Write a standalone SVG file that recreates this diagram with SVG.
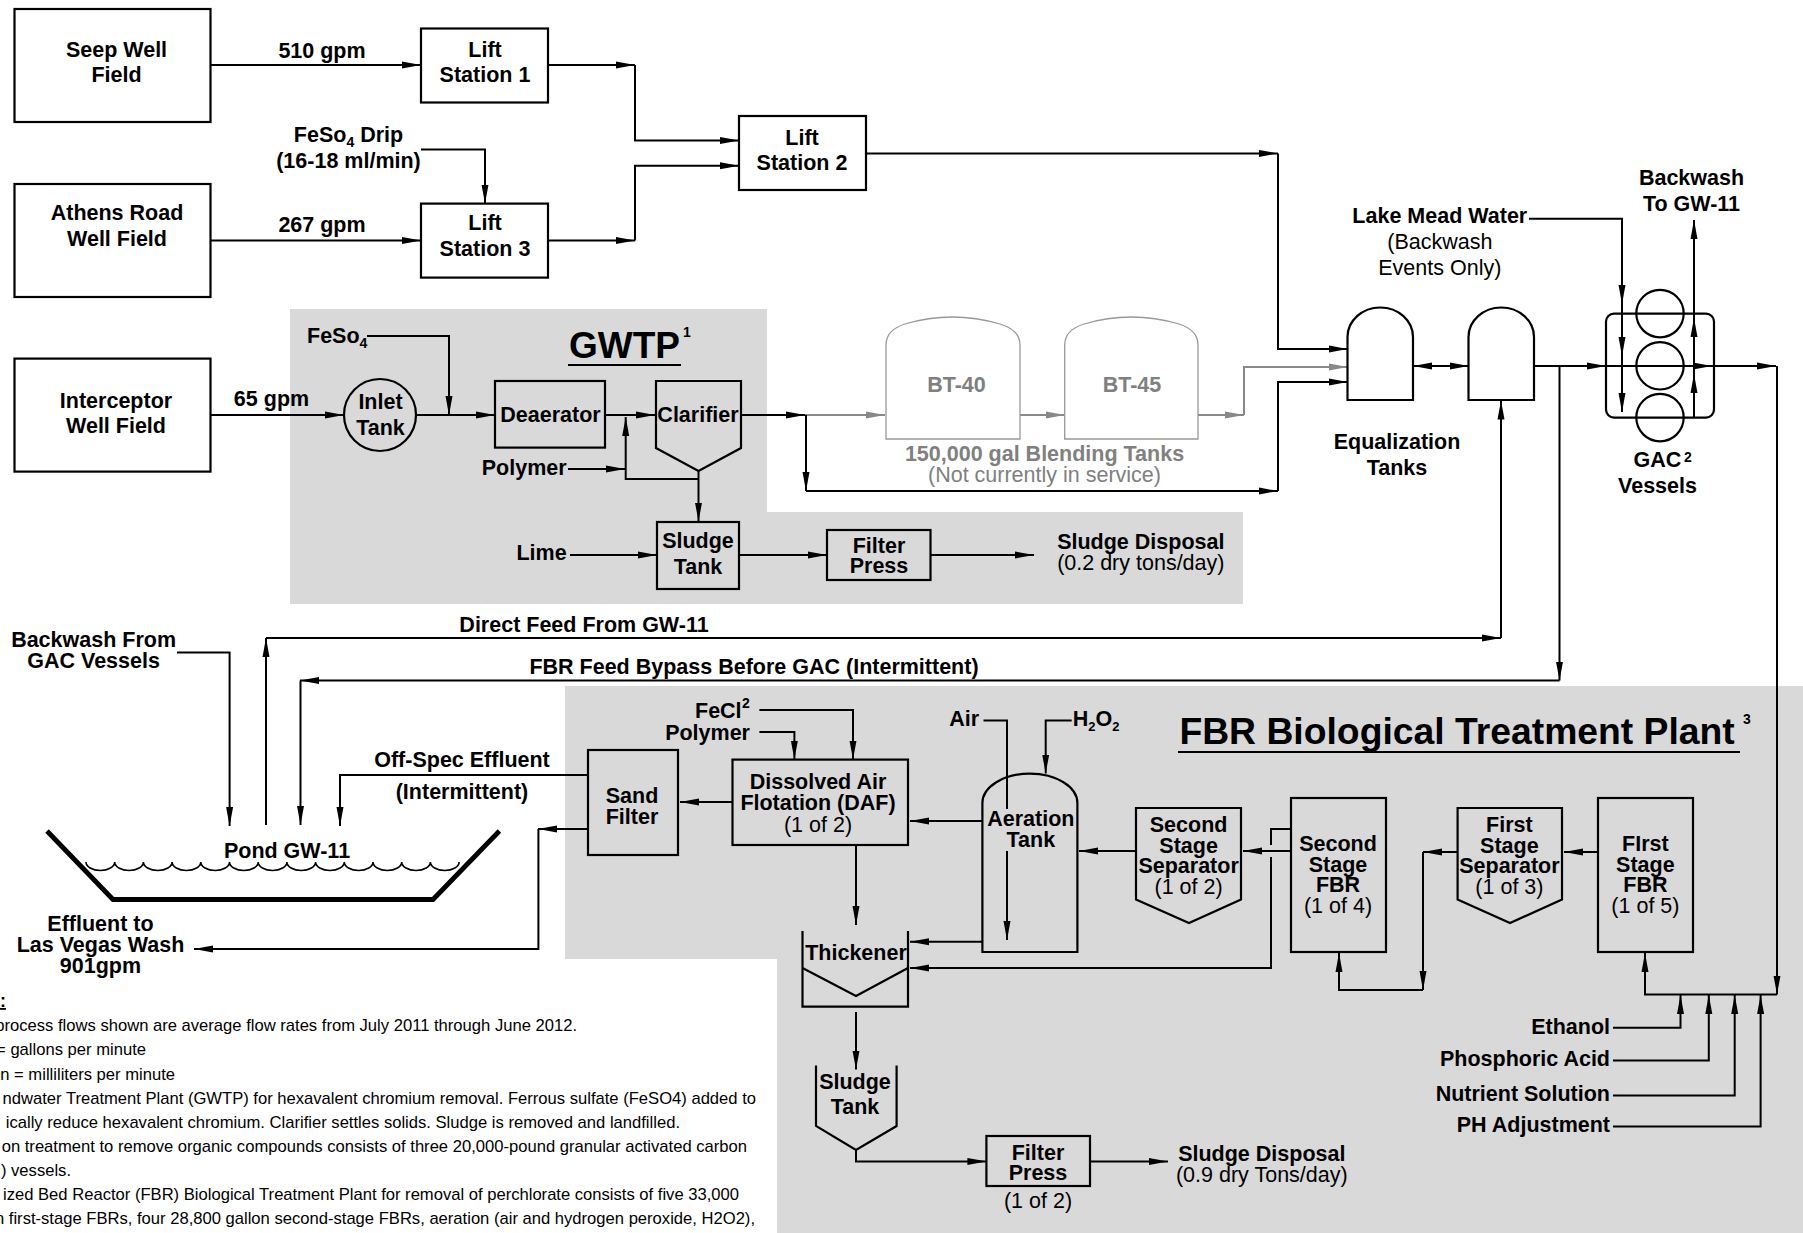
<svg xmlns="http://www.w3.org/2000/svg" width="1803" height="1233" viewBox="0 0 1803 1233">
<style>
text{font-family:"Liberation Sans",Arial,sans-serif;font-size:21.5px;fill:#000}
.b{font-weight:bold}.m{text-anchor:middle}.e{text-anchor:end}
.g{fill:#808080}.sup{font-size:14px}
.note{font-size:16.6px;text-anchor:end}
.s{fill:none;stroke:#000;stroke-width:2.2}
.w{fill:#fff;stroke:#000;stroke-width:2.2}
.t{fill:none;stroke:#999;stroke-width:1.3}
.c{fill:none;stroke:#000;stroke-width:2}
.a{marker-end:url(#ah)}
.cg{fill:none;stroke:#888;stroke-width:2;marker-end:url(#ag)}
.p{fill:#d9d9d9}
</style>
<defs>
<marker id="ah" markerUnits="userSpaceOnUse" viewBox="0 0 19 8" refX="19" refY="4" markerWidth="19" markerHeight="8" orient="auto"><path d="M0,0.5 L19,4 L0,7.5 Z" fill="#000"/></marker>
<marker id="ag" markerUnits="userSpaceOnUse" viewBox="0 0 19 8" refX="19" refY="4" markerWidth="19" markerHeight="8" orient="auto"><path d="M0,0.5 L19,4 L0,7.5 Z" fill="#888"/></marker>
</defs>
<rect width="1803" height="1233" fill="#fff"/>
<g id="panels">
<path class="p" d="M290,309 H767 V512 H1243 V604 H290 Z"/>
<path class="p" d="M565,686 H1803 V1233 H777 V959 H565 Z"/>
</g>
<g id="connectors">
<path class="c a" d="M210.5,65 H421"/>
<path class="c a" d="M548,65 H635"/>
<path class="c a" d="M635,65 V140.5 H739"/>
<path class="c a" d="M421,149.5 H485 V203.6"/>
<path class="c a" d="M210.5,240.4 H421"/>
<path class="c a" d="M548,240.4 H635"/>
<path class="c a" d="M635,240.4 V165.7 H739"/>
<path class="c a" d="M866,153.4 H1278"/>
<path class="c a" d="M1278,153.4 V349 H1347.5"/>
<path class="c a" d="M210.5,415 H344"/>
<path class="c a" d="M416,415 H495"/>
<path class="c a" d="M367,336 H449 V415"/>
<path class="c a" d="M605,415 H655"/>
<path class="c a" d="M568,469 H625"/>
<path class="c a" d="M698.5,479 H625.7 V417"/>
<path class="c a" d="M698.5,471 V521.5"/>
<path class="c a" d="M741.5,415 H805"/>
<path class="cg" d="M805,415 H885"/>
<path class="c a" d="M806,415 V491"/>
<path class="c a" d="M806,491 H1278"/>
<path class="c a" d="M1278,491 V382 H1347.5"/>
<path class="cg" d="M1020,415 H1064.5"/>
<path class="cg" d="M1198,415 H1244"/>
<path class="cg" d="M1244,415 V367 H1347.5"/>
<path class="c a" d="M570,555 H657"/>
<path class="c a" d="M739,555 H827"/>
<path class="c a" d="M930.5,555 H1034"/>
<path class="c a" d="M1441,366 H1413"/>
<path class="c a" d="M1441,366 H1468.5"/>
<path class="c a" d="M1534,366 H1606"/>
<path class="c a" d="M1606,366 H1712"/>
<path class="c a" d="M1712,366 H1776"/>
<path class="c a" d="M1777,366 V994.5"/>
<path class="c a" d="M1529,218.7 H1622 V304"/>
<path class="c a" d="M1622,304 V356"/>
<path class="c a" d="M1622,356 V412"/>
<path class="c a" d="M1694,417.6 V374"/>
<path class="c a" d="M1694,374 V318"/>
<path class="c a" d="M1694,318 V220"/>
<path class="c a" d="M1559.5,366 V680.6"/>
<path class="c a" d="M1559.5,680.6 H300"/>
<path class="c a" d="M300.5,680.6 V825"/>
<path class="c a" d="M266,825 V638"/>
<path class="c a" d="M266,638 H1501"/>
<path class="c a" d="M1501,638 V400.5"/>
<path class="c a" d="M177,652.4 H229.6 V826"/>
<path class="c a" d="M588,775 H340 V826"/>
<path class="c a" d="M732.5,802 H680"/>
<path class="c a" d="M588,829 H538"/>
<path class="c a" d="M538.4,829 V949 H194"/>
<path class="c a" d="M759.4,710 H853 V759.6"/>
<path class="c a" d="M759.4,732 H794.4 V759.6"/>
<path class="c a" d="M856,845 V925"/>
<path class="c a" d="M856,1012 V1069.6"/>
<path class="c a" d="M856,1150 V1161.4 H986.4"/>
<path class="c a" d="M1090,1161.4 H1168"/>
<path class="c" d="M983.5,720.5 H1007 V809"/>
<path class="c a" d="M1007,851 V940"/>
<path class="c a" d="M1071.7,720.5 H1045.7 V773.6"/>
<path class="c a" d="M982.4,821 H910"/>
<path class="c a" d="M982.4,941.7 H910"/>
<path class="c a" d="M1136,851 H1079"/>
<path class="c a" d="M1291,851 H1243"/>
<path class="c" d="M1291,829 H1271 V845"/>
<path class="c a" d="M1271,857 V968 H910"/>
<path class="c a" d="M1598,852 H1564"/>
<path class="c a" d="M1457.6,852 H1423"/>
<path class="c a" d="M1423,852 V990"/>
<path class="c a" d="M1423,990 H1339 V953"/>
<path class="c a" d="M1777,994.5 H1645 V953"/>
<path class="c a" d="M1613,1027.7 H1680.5 V995"/>
<path class="c a" d="M1613,1060.6 H1708.8 V995"/>
<path class="c a" d="M1613,1095.4 H1734.7 V995"/>
<path class="c a" d="M1613,1126.6 H1760.6 V995"/>
</g>
<g id="seep-well"><rect class="s" x="14.5" y="9" width="196" height="113"/><text class="b m" x="116.5" y="56.5">Seep Well</text><text class="b m" x="116.5" y="82">Field</text></g>
<g id="athens-road"><rect class="s" x="14.5" y="184" width="196" height="113"/><text class="b m" x="117" y="220">Athens Road</text><text class="b m" x="117" y="246">Well Field</text></g>
<g id="interceptor"><rect class="s" x="14.5" y="358.6" width="196" height="113"/><text class="b m" x="116" y="408">Interceptor</text><text class="b m" x="116" y="433">Well Field</text></g>
<g id="lift-1"><rect class="s" x="421" y="28.5" width="127" height="74"/><text class="b m" x="485" y="56.5">Lift</text><text class="b m" x="485" y="82">Station 1</text></g>
<g id="lift-3"><rect class="s" x="421" y="203.6" width="127" height="74"/><text class="b m" x="485" y="230">Lift</text><text class="b m" x="485" y="256">Station 3</text></g>
<g id="lift-2"><rect class="s" x="739" y="116" width="127" height="74"/><text class="b m" x="802" y="144.7">Lift</text><text class="b m" x="802" y="170.4">Station 2</text></g>
<g id="labels-top">
<text class="b m" x="322" y="57.7">510 gpm</text>
<text class="b m" x="322" y="232">267 gpm</text>
<text class="b m" x="271.5" y="406">65 gpm</text>
<text class="b m" x="348.5" y="142">FeSo<tspan font-size="14" dy="5">4</tspan><tspan dy="-5"> Drip</tspan></text>
<text class="b m" x="348.5" y="168">(16-18 ml/min)</text>
<text class="b" x="307" y="343">FeSo<tspan font-size="14" dy="5">4</tspan></text>
<text class="b" x="569" y="358" style="font-size:37px">GWTP</text>
<path class="s" d="M568,365 H681"/>
<text class="b sup" x="683" y="337">1</text>
<text class="b e" x="566.6" y="474.5">Polymer</text>
<text class="b e" x="566.6" y="559.5">Lime</text>
<text class="b m" x="1140.8" y="549">Sludge Disposal</text>
<text class="m" x="1140.8" y="570">(0.2 dry tons/day)</text>
</g>
<g id="inlet-tank"><circle class="s" cx="380" cy="415" r="36"/><text class="b m" x="380.5" y="409">Inlet</text><text class="b m" x="380.5" y="435">Tank</text></g>
<g id="deaerator"><rect class="s" x="495" y="381" width="110" height="66.6"/><text class="b m" x="550.5" y="421.5">Deaerator</text></g>
<g id="clarifier"><path class="s" d="M656,381 H741 V448 L698.5,471 L656,448 Z"/><text class="b m" x="698" y="421.5">Clarifier</text></g>
<g id="sludge-tank-1"><rect class="s" x="657" y="522" width="82" height="67"/><text class="b m" x="698" y="548.4">Sludge</text><text class="b m" x="698" y="574">Tank</text></g>
<g id="filter-press-1"><rect class="s" x="827" y="530" width="103.5" height="50"/><text class="b m" x="879" y="553">Filter</text><text class="b m" x="879" y="573">Press</text></g>
<g id="bt-40"><path class="t" d="M886,439 V345 Q886,330 905,324 Q952,310 1000,324 Q1020,330 1020,345 V439 Z"/><text class="b m g" x="956.5" y="392">BT-40</text></g>
<g id="bt-45"><path class="t" d="M1064.7,439 V345 Q1064.7,330 1084,324 Q1131,310 1179,324 Q1198,330 1198,345 V439 Z"/><text class="b m g" x="1132" y="392">BT-45</text></g>
<g id="blending-label"><text class="b m g" x="1044.5" y="461">150,000 gal Blending Tanks</text><text class="m g" x="1044.5" y="481.6">(Not currently in service)</text></g>
<g id="eq-tank-1"><path class="s" d="M1347.5,400 V337 A32.75,29.5 0 0 1 1413,337 V400 Z"/></g>
<g id="eq-tank-2"><path class="s" d="M1468.5,400 V337 A32.75,29.5 0 0 1 1534,337 V400 Z"/></g>
<g id="eq-label"><text class="b m" x="1397" y="449">Equalization</text><text class="b m" x="1397" y="474.5">Tanks</text></g>
<g id="lake-mead"><text class="b m" x="1439.8" y="223.4">Lake Mead Water</text><text class="m" x="1439.8" y="249">(Backwash</text><text class="m" x="1439.8" y="275">Events Only)</text></g>
<g id="backwash-to"><text class="b m" x="1691.5" y="185">Backwash</text><text class="b m" x="1691.5" y="211">To GW-11</text></g>
<g id="gac-vessels">
<rect class="s" x="1606" y="313.6" width="108" height="104" rx="8"/>
<circle class="s" cx="1660" cy="313.6" r="23.7"/><circle class="s" cx="1660" cy="365.8" r="23.7"/><circle class="s" cx="1660" cy="417.6" r="23.7"/>
<text class="b m" x="1657.5" y="466.6">GAC</text><text class="b sup" x="1684" y="462">2</text><text class="b m" x="1657.5" y="492.7">Vessels</text>
</g>
<g id="labels-mid">
<text class="b m" x="584" y="632">Direct Feed From GW-11</text>
<text class="b m" x="754" y="673.6">FBR Feed Bypass Before GAC (Intermittent)</text>
<text class="b m" x="93.6" y="646.6">Backwash From</text><text class="b m" x="93.6" y="667.7">GAC Vessels</text>
<text class="b m" x="462" y="766.6">Off-Spec Effluent</text><text class="b m" x="462" y="798.6">(Intermittent)</text>
<text class="b m" x="100.5" y="931">Effluent to</text><text class="b m" x="100.5" y="952">Las Vegas Wash</text><text class="b m" x="100.5" y="972.6">901gpm</text>
</g>
<g id="pond">
<path fill="none" stroke="#000" stroke-width="4.8" d="M47,831 L113,899.5 H433 L499.4,831"/>
<path fill="none" stroke="#000" stroke-width="1.6" d="M86,862 a14.35,8.5 0 0 0 28.7,0 a14.35,8.5 0 0 0 28.7,0 a14.35,8.5 0 0 0 28.7,0 a14.35,8.5 0 0 0 28.7,0 a14.35,8.5 0 0 0 28.7,0 a14.35,8.5 0 0 0 28.7,0 a14.35,8.5 0 0 0 28.7,0 a14.35,8.5 0 0 0 28.7,0 a14.35,8.5 0 0 0 28.7,0 a14.35,8.5 0 0 0 28.7,0 a14.35,8.5 0 0 0 28.7,0 a14.35,8.5 0 0 0 28.7,0 a14.35,8.5 0 0 0 28.7,0"/>
<text class="b m" x="287" y="857.7">Pond GW-11</text>
</g>
<g id="sand-filter"><rect class="s" x="588" y="750" width="90" height="105"/><text class="b m" x="632" y="803">Sand</text><text class="b m" x="632" y="823.7">Filter</text></g>
<g id="daf"><rect class="s" x="732.5" y="759.6" width="175.5" height="85.4"/><text class="b m" x="818" y="789">Dissolved Air</text><text class="b m" x="818" y="810">Flotation (DAF)</text><text class="m" x="818" y="831.5">(1 of 2)</text></g>
<g id="chem-labels"><text class="b e" x="741.6" y="717.7">FeCl</text><text class="b sup" x="742" y="708">2</text><text class="b e" x="750" y="739.6">Polymer</text>
<text class="b e" x="979" y="726">Air</text><text class="b" x="1072.8" y="726">H<tspan font-size="13" dy="5">2</tspan><tspan dy="-5">O</tspan><tspan font-size="13" dy="5">2</tspan></text></g>
<g id="thickener"><path class="s" d="M802.5,931 V1006.6 H908 V931"/><path class="s" d="M802.5,968 L856,996 L908,968"/><text class="b m" x="856" y="960">Thickener</text></g>
<g id="sludge-tank-2"><path class="s" d="M816,1065.6 V1126 L856,1150 L896.6,1126 V1065.6"/><text class="b m" x="855" y="1088.7">Sludge</text><text class="b m" x="855" y="1114">Tank</text></g>
<g id="filter-press-2"><rect class="s" x="986.4" y="1136" width="103.6" height="50"/><text class="b m" x="1038" y="1159.5">Filter</text><text class="b m" x="1038" y="1180">Press</text><text class="m" x="1038" y="1207.6">(1 of 2)</text></g>
<g id="sludge-disposal-2"><text class="b m" x="1261.8" y="1161.4">Sludge Disposal</text><text class="m" x="1261.8" y="1182">(0.9 dry Tons/day)</text></g>
<g id="aeration-tank"><path class="s" d="M982.4,952 V803 A47.5,29.4 0 0 1 1077.4,803 V952 Z"/><text class="b m" x="1030.8" y="826">Aeration</text><text class="b m" x="1030.8" y="846.7">Tank</text></g>
<g id="second-separator"><path class="s" d="M1136,808 H1241 V899.5 L1189,923 L1136,899.5 Z"/><text class="b m" x="1188.6" y="831.5">Second</text><text class="b m" x="1188.6" y="852.6">Stage</text><text class="b m" x="1188.6" y="873">Separator</text><text class="m" x="1188.6" y="894.4">(1 of 2)</text></g>
<g id="second-fbr"><rect class="s" x="1291" y="798" width="95" height="154"/><text class="b m" x="1338" y="851">Second</text><text class="b m" x="1338" y="872">Stage</text><text class="b m" x="1338" y="891.7">FBR</text><text class="m" x="1338" y="912.8">(1 of 4)</text></g>
<g id="first-separator"><path class="s" d="M1457.6,808 H1562 V899.5 L1510,923 L1457.6,899.5 Z"/><text class="b m" x="1509.4" y="831.5">First</text><text class="b m" x="1509.4" y="852.6">Stage</text><text class="b m" x="1509.4" y="873">Separator</text><text class="m" x="1509.4" y="894.4">(1 of 3)</text></g>
<g id="first-fbr"><rect class="s" x="1598" y="798" width="95" height="154"/><text class="b m" x="1645.4" y="851">FIrst</text><text class="b m" x="1645.4" y="872">Stage</text><text class="b m" x="1645.4" y="891.7">FBR</text><text class="m" x="1645.4" y="912.8">(1 of 5)</text></g>
<g id="fbr-title"><text class="b" x="1179.4" y="744" style="font-size:37.3px">FBR Biological Treatment Plant</text><path class="s" d="M1178,752 H1740"/><text class="b sup" x="1743" y="724">3</text></g>
<g id="chem-fbr"><text class="b e" x="1610" y="1034.4">Ethanol</text><text class="b e" x="1610" y="1065.7">Phosphoric Acid</text><text class="b e" x="1610" y="1101">Nutrient Solution</text><text class="b e" x="1610" y="1132">PH Adjustment</text></g>
<g id="notes">
<text class="b" x="0" y="1007" style="font-size:18px;text-decoration:underline">:</text>
<text class="note" x="577" y="1031">process flows shown are average flow rates from July 2011 through June 2012.</text>
<text class="note" x="146" y="1055">= gallons per minute</text>
<text class="note" x="175" y="1079.5">n = milliliters per minute</text>
<text class="note" x="756" y="1103.5">ndwater Treatment Plant (GWTP) for hexavalent chromium removal. Ferrous sulfate (FeSO4) added to</text>
<text class="note" x="680" y="1127.5">ically reduce hexavalent chromium.  Clarifier settles solids. Sludge is removed and landfilled.</text>
<text class="note" x="747" y="1152">on treatment to remove organic compounds consists of three 20,000-pound granular activated carbon</text>
<text class="note" x="71" y="1176">) vessels.</text>
<text class="note" x="739" y="1200">ized Bed Reactor (FBR) Biological Treatment Plant for removal of perchlorate consists of five 33,000</text>
<text class="note" x="755" y="1224">n first-stage FBRs, four 28,800 gallon second-stage FBRs, aeration (air and hydrogen peroxide, H2O2),</text>
</g>
</svg>
